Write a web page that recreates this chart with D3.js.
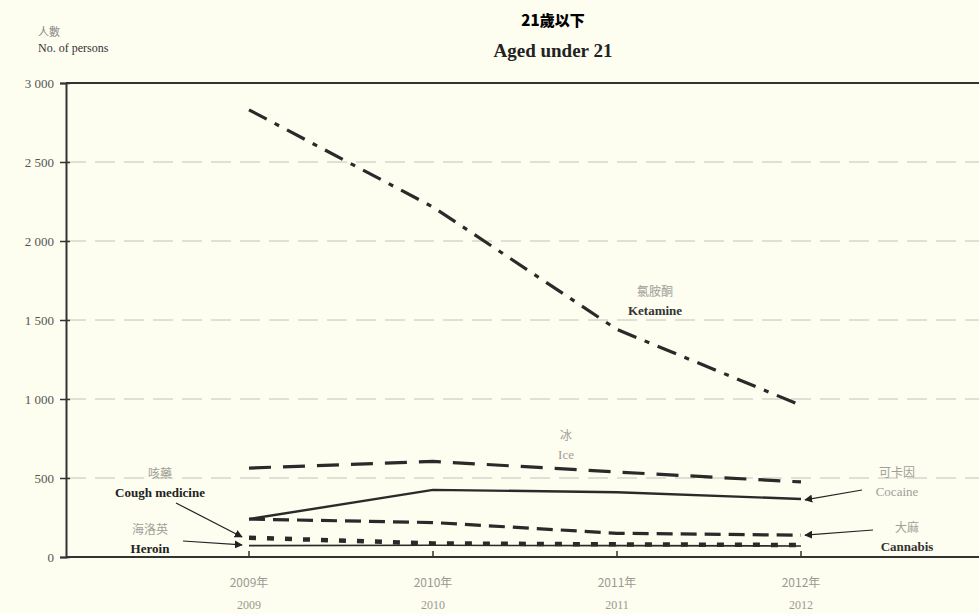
<!DOCTYPE html>
<html>
<head>
<meta charset="utf-8">
<script src="https://cdn.jsdelivr.net/npm/d3@7"></script>
<style>
  body { margin: 0; background: #fdfdf0; }
  svg { display: block; }
</style>
</head>
<body>
<svg width="979" height="614"></svg>
<script>
var years = [2009, 2010, 2011, 2012]
var yTicks = [0, 500, 1000, 1500, 2000, 2500, 3000]
var ketamine = [2830, 2215, 1440, 960]
var ice = [563, 605, 538, 475]
var cocaine = [240, 425, 410, 367]
var cannabis = [240, 218, 150, 138]
var cough = [122, 86, 80, 76]
var heroin = [72, 74, 72, 70]

var series = [
  { name: 'ketamine', values: ketamine, width: 3.2, dash: '20,9,5,9' },
  { name: 'ice', values: ice, width: 3.2, dash: '22,12' },
  { name: 'cocaine', values: cocaine, width: 2.4, dash: null },
  { name: 'cannabis', values: cannabis, width: 3.2, dash: '16,8' },
  { name: 'heroin', values: heroin, width: 1.6, dash: null },
  { name: 'cough', values: cough, width: 4.5, dash: '7,11' }
]

var svg = d3.select('svg')
var x = d3.scaleLinear().domain([2008, 2013]).range([65, 985])
var y = d3.scaleLinear().domain([0, 3000]).range([557, 83])
var serif = 'Liberation Serif, Times New Roman, serif'
var cjk = 'Noto Sans CJK TC, sans-serif'

svg.append('defs').append('marker')
    .attr('id', 'arr')
    .attr('viewBox', '0 0 10 10')
    .attr('refX', 9).attr('refY', 5)
    .attr('markerWidth', 8).attr('markerHeight', 8)
    .attr('markerUnits', 'userSpaceOnUse')
    .attr('orient', 'auto')
  .append('path')
    .attr('d', 'M0,0L10,5L0,10z')
    .attr('fill', '#222')

// grid lines
svg.selectAll('.grid')
    .data(yTicks.filter(function (d) { return d > 0 && d < 3000 }))
    .enter()
    .append('line')
    .attr('x1', 66).attr('x2', 979)
    .attr('y1', function (d) { return y(d) }).attr('y2', function (d) { return y(d) })
    .attr('stroke', '#c2c2b8').attr('stroke-width', 1)
    .attr('stroke-dasharray', '20,9')

// top border
svg.append('line').attr('x1', 66).attr('x2', 979).attr('y1', y(3000)).attr('y2', y(3000))
    .attr('stroke', '#333').attr('stroke-width', 2)

// y axis
var yAxis = svg.append('g').attr('transform', 'translate(66,0)')
    .call(d3.axisLeft(y).tickValues(yTicks).tickSize(6)
      .tickFormat(function (d) { return d3.format(',')(d).replace(',', ' ') }))
yAxis.select('.domain').attr('stroke', '#333').attr('stroke-width', 2)
yAxis.selectAll('.tick line').attr('stroke', '#333').attr('stroke-width', 1.5).attr('x2', 4).attr('x1', -6)
yAxis.selectAll('.tick text').attr('x', -12).attr('fill', '#555')
    .style('font-family', serif).style('font-size', '13px')

// x axis
var xAxis = svg.append('g').attr('transform', 'translate(0,557)')
xAxis.append('line').attr('x1', 66).attr('x2', 979).attr('stroke', '#333').attr('stroke-width', 2)
xAxis.selectAll('.xt')
    .data(years)
    .enter()
    .append('line')
    .attr('x1', function (d) { return x(d) }).attr('x2', function (d) { return x(d) })
    .attr('y1', 0).attr('y2', -6)
    .attr('stroke', '#333').attr('stroke-width', 1.5)
xAxis.selectAll('.xl1')
    .data(years)
    .enter()
    .append('text')
    .attr('x', function (d) { return x(d) }).attr('y', 30)
    .attr('text-anchor', 'middle').attr('fill', '#9a9a90')
    .style('font-family', cjk).style('font-size', '12px')
    .text(function (d) { return d + '年' })
xAxis.selectAll('.xl2')
    .data(years)
    .enter()
    .append('text')
    .attr('x', function (d) { return x(d) }).attr('y', 52)
    .attr('text-anchor', 'middle').attr('fill', '#9a9a90')
    .style('font-family', serif).style('font-size', '12px')
    .text(function (d) { return d })

// lines
var line = d3.line()
    .x(function (d, i) { return x(years[i]) })
    .y(function (d) { return y(d) })

svg.selectAll('.series')
    .data(series)
    .enter()
    .append('path')
    .attr('d', function (d) { return line(d.values) })
    .attr('fill', 'none')
    .attr('stroke', '#2a2a2a')
    .attr('stroke-width', function (d) { return d.width })
    .attr('stroke-dasharray', function (d) { return d.dash })

// titles
svg.append('text').attr('x', 553).attr('y', 26).attr('text-anchor', 'middle')
    .style('font-family', cjk).style('font-size', '15px').style('font-weight', '900')
    .attr('fill', '#000').text('21歲以下')
svg.append('text').attr('x', 553).attr('y', 57).attr('text-anchor', 'middle')
    .style('font-family', serif).style('font-size', '19px').style('font-weight', 'bold')
    .attr('fill', '#222').text('Aged under 21')
svg.append('text').attr('x', 38).attr('y', 36)
    .style('font-family', cjk).style('font-size', '11px').attr('fill', '#888').text('人數')
svg.append('text').attr('x', 38).attr('y', 52)
    .style('font-family', serif).style('font-size', '12px').attr('fill', '#333').text('No. of persons')

// series labels
var labels = [
  { x: 655, y: 296, zh: '氯胺酮', en: 'Ketamine', enCol: '#333', bold: true },
  { x: 566, y: 440, zh: '冰', en: 'Ice', enCol: '#a0a098', bold: false },
  { x: 897, y: 477, zh: '可卡因', en: 'Cocaine', enCol: '#a0a098', bold: false },
  { x: 907, y: 532, zh: '大麻', en: 'Cannabis', enCol: '#333', bold: true },
  { x: 160, y: 478, zh: '咳藥', en: 'Cough medicine', enCol: '#222', bold: true },
  { x: 150, y: 534, zh: '海洛英', en: 'Heroin', enCol: '#222', bold: true }
]
labels.forEach(function (l) {
  svg.append('text').attr('x', l.x).attr('y', l.y).attr('text-anchor', 'middle')
      .style('font-family', cjk).style('font-size', '12px').attr('fill', '#a0a098').text(l.zh)
  svg.append('text').attr('x', l.x).attr('y', l.y + 19).attr('text-anchor', 'middle')
      .style('font-family', serif).style('font-size', '13px')
      .style('font-weight', l.bold ? 'bold' : 'normal')
      .attr('fill', l.enCol).text(l.en)
})

// arrows
var arrows = [
  { from: [862, 490], to: [2012, cocaine[3] - 5] },
  { from: [873, 530], to: [2012, cannabis[3]] },
  { from: [176, 503], to: [2009, cough[0] + 5] },
  { from: [183, 541], to: [2009, heroin[0] + 5] }
]
svg.selectAll('.arrow')
    .data(arrows)
    .enter()
    .append('line')
    .attr('x1', function (d) { return d.from[0] }).attr('y1', function (d) { return d.from[1] })
    .attr('x2', function (d) { return x(d.to[0]) + (d.to[0] === 2012 ? 4 : -7) })
    .attr('y2', function (d) { return y(d.to[1]) })
    .attr('stroke', '#222').attr('stroke-width', 1.2)
    .attr('marker-end', 'url(#arr)')
</script>
</body>
</html>
